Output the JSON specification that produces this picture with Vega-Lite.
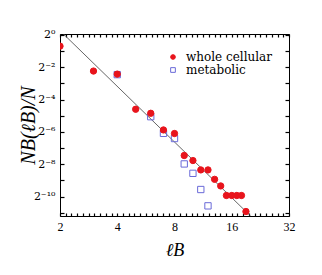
{
  "$schema": "https://vega.github.io/schema/vega-lite/v6.json",
  "autosize": {"type": "none"},
  "padding": {"left": 60, "top": 34, "right": 33, "bottom": 59},
  "width": 229,
  "height": 182,
  "background": "white",
  "config": {
    "font": "Liberation Serif",
    "view": {"stroke": "#000", "strokeWidth": 1},
    "axis": {"grid": false, "domain": false, "ticks": true, "tickOpacity": 1, "tickColor": "#000", "tickWidth": 1, "labelColor": "#000", "titleColor": "#000", "labelFont": "Liberation Serif", "titleFont": "Liberation Serif"},
    "legend": {"orient": "top-right", "offset": 17, "title": null, "padding": 0, "labelFont": "DejaVu Serif", "labelFontSize": 12, "labelColor": "#000", "symbolSize": 22, "labelOffset": 7, "rowPadding": 1, "symbolStrokeWidth": 1, "symbolOpacity": 1}
  },
  "layer": [
    {
      "data": {"values": [{"l": 2.085, "p": 1.035}, {"l": 20.1, "p": 0.000426}]},
      "mark": {"type": "line", "color": "#555", "strokeWidth": 0.9, "clip": true},
      "encoding": {
        "x": {"field": "l", "type": "quantitative",
          "scale": {"type": "log", "base": 2, "domain": [2, 32], "nice": false},
          "axis": {"orient": "bottom", "offset": -3, "title": "ℓB", "titleFontSize": 18, "titleFontStyle": "italic", "titleFontWeight": "normal", "titlePadding": 9,
            "values": [2, 2.1435, 2.2974, 2.4623, 2.639, 2.8284, 3.0314, 3.249, 3.4822, 3.7321, 4, 4.2871, 4.5948, 4.9246, 5.278, 5.6569, 6.0629, 6.498, 6.9644, 7.4643, 8, 8.5742, 9.1896, 9.8492, 10.556, 11.314, 12.126, 12.996, 13.929, 14.929, 16, 17.148, 18.379, 19.698, 21.112, 22.627, 24.251, 25.992, 27.858, 29.857, 32],
            "labelExpr": "abs(log(datum.value)/LN2 - round(log(datum.value)/LN2)) < 0.001 ? format(datum.value, 'd') : ''",
            "ticks": true, "tickSize": 3, "tickWidth": 1.2, "labelPadding": 5, "labelFontSize": 12, "labelFlush": false}},
        "y": {"field": "p", "type": "quantitative",
          "scale": {"type": "log", "base": 2, "domain": [0.000426, 1.035], "nice": false},
          "axis": {"orient": "left", "offset": -4, "title": "NB(ℓB)/N", "titleFontSize": 20, "titleFontStyle": "italic", "titleFontWeight": "normal", "titlePadding": -5,
            "values": [1, 0.5, 0.25, 0.125, 0.0625, 0.03125, 0.015625, 0.0078125, 0.00390625, 0.001953125, 0.0009765625, 0.00048828125],
            "labelExpr": "['2⁰','','2⁻²','','2⁻⁴','','2⁻⁶','','2⁻⁸','','2⁻¹⁰',''][round(-log(datum.value)/LN2)]",
            "ticks": true, "tickSize": 4, "tickWidth": 1.2, "labelPadding": 5, "labelFont": "DejaVu Serif", "labelFontSize": 11, "labelFlush": false}}
      }
    },
    {
      "data": {"values": [
        {"l": 4, "p": 0.1817, "series": "metabolic"},
        {"l": 6, "p": 0.02998, "series": "metabolic"},
        {"l": 7, "p": 0.01468, "series": "metabolic"},
        {"l": 8, "p": 0.01176, "series": "metabolic"},
        {"l": 9, "p": 0.003961, "series": "metabolic"},
        {"l": 10, "p": 0.00265, "series": "metabolic"},
        {"l": 11, "p": 0.001325, "series": "metabolic"},
        {"l": 12, "p": 0.0006578, "series": "metabolic"},
        {"l": 2, "p": 0.6156, "series": "whole cellular"},
        {"l": 3, "p": 0.2117, "series": "whole cellular"},
        {"l": 4, "p": 0.1856, "series": "whole cellular"},
        {"l": 5, "p": 0.04124, "series": "whole cellular"},
        {"l": 6, "p": 0.03468, "series": "whole cellular"},
        {"l": 7, "p": 0.01698, "series": "whole cellular"},
        {"l": 8, "p": 0.01458, "series": "whole cellular"},
        {"l": 9, "p": 0.00568, "series": "whole cellular"},
        {"l": 10, "p": 0.004581, "series": "whole cellular"},
        {"l": 11, "p": 0.003065, "series": "whole cellular"},
        {"l": 12, "p": 0.003065, "series": "whole cellular"},
        {"l": 13, "p": 0.00205, "series": "whole cellular"},
        {"l": 14, "p": 0.001543, "series": "whole cellular"},
        {"l": 15, "p": 0.001025, "series": "whole cellular"},
        {"l": 16, "p": 0.001025, "series": "whole cellular"},
        {"l": 17, "p": 0.001025, "series": "whole cellular"},
        {"l": 18, "p": 0.001025, "series": "whole cellular"},
        {"l": 19, "p": 0.0005161, "series": "whole cellular"}
      ]},
      "mark": {"type": "point", "strokeWidth": 1, "size": 40, "opacity": 1, "fillOpacity": 1, "strokeOpacity": 1, "clip": true},
      "encoding": {
        "x": {"field": "l", "type": "quantitative",
          "scale": {"type": "log", "base": 2, "domain": [2, 32], "nice": false},
          "axis": {"orient": "top", "offset": -3, "title": null, "labels": false, "ticks": true,
            "values": [2, 2.1435, 2.2974, 2.4623, 2.639, 2.8284, 3.0314, 3.249, 3.4822, 3.7321, 4, 4.2871, 4.5948, 4.9246, 5.278, 5.6569, 6.0629, 6.498, 6.9644, 7.4643, 8, 8.5742, 9.1896, 9.8492, 10.556, 11.314, 12.126, 12.996, 13.929, 14.929, 16, 17.148, 18.379, 19.698, 21.112, 22.627, 24.251, 25.992, 27.858, 29.857, 32],
            "tickSize": 3, "tickWidth": 1.2}},
        "y": {"field": "p", "type": "quantitative",
          "scale": {"type": "log", "base": 2, "domain": [0.000426, 1.035], "nice": false},
          "axis": {"orient": "right", "offset": -4, "title": null, "labels": false, "ticks": true,
            "values": [1, 0.5, 0.25, 0.125, 0.0625, 0.03125, 0.015625, 0.0078125, 0.00390625, 0.001953125, 0.0009765625, 0.00048828125],
            "tickSize": 4, "tickWidth": 1.2}},
        "shape": {"field": "series", "type": "nominal",
          "scale": {"domain": ["whole cellular", "metabolic"], "range": ["circle", "square"]},
          "legend": {"labelFont": "DejaVu Serif", "labelFontSize": 12}},
        "fill": {"field": "series", "type": "nominal",
          "scale": {"domain": ["whole cellular", "metabolic"], "range": ["#e8141c", "transparent"]},
          "legend": {"labelFont": "DejaVu Serif", "labelFontSize": 12}},
        "stroke": {"field": "series", "type": "nominal",
          "scale": {"domain": ["whole cellular", "metabolic"], "range": ["#e8141c", "#6a6ad8"]},
          "legend": {"labelFont": "DejaVu Serif", "labelFontSize": 12}}
      }
    }
  ],
  "resolve": {"axis": {"x": "independent", "y": "independent"}}
}
